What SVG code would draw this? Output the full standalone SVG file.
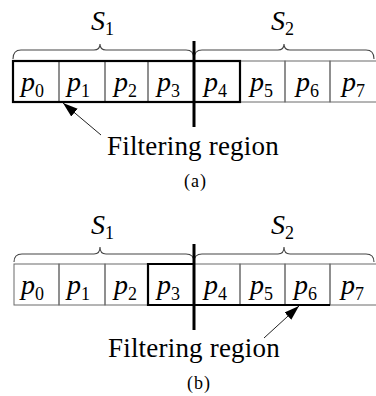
<svg xmlns="http://www.w3.org/2000/svg" width="376" height="396" viewBox="0 0 376 396">
<style>
.thin{stroke:#6a6a6a;stroke-width:1;fill:none}
.bold{stroke:#000;stroke-width:2.2;fill:none}
.axis{stroke:#000;stroke-width:3}
.brace{stroke:#444;stroke-width:1.1;fill:none}
.var{font-family:'Liberation Serif','Times New Roman','DejaVu Serif',serif;font-style:italic;font-size:28px;fill:#000}
.sub{font-style:normal;font-size:18px}
.lbl{font-family:'Liberation Serif','Times New Roman','DejaVu Serif',serif;font-size:27px;letter-spacing:0.2px;fill:#000}
.cap{font-family:'Liberation Serif','Times New Roman','DejaVu Serif',serif;font-size:18px;letter-spacing:1px;fill:#000}
.arrow{stroke:#222;stroke-width:1;fill:none}
</style>
<defs>
<marker id="ah" markerUnits="userSpaceOnUse" markerWidth="16" markerHeight="12" refX="15" refY="5" orient="auto">
<path d="M0,0 L15,5 L0,10 Z" fill="#000"/>
</marker>
</defs>
<rect width="376" height="396" fill="#fff"/>

<!-- Panel (a) -->
<g id="a-S1">
<path class="brace" d="M13,59 Q13,50 21,50 L94,50 Q100,50 100,44 Q100,50 106,50 L186,50 Q194,50 194,59"/>
<text class="var" x="91" y="30">S<tspan class="sub" font-size="17" dy="5">1</tspan></text>
</g>
<g id="a-S2">
<path class="brace" d="M194,59 Q194,50 202,50 L278,50 Q284,50 284,44 Q284,50 290,50 L366,50 Q374,50 374,59"/>
<text class="var" x="271" y="30">S<tspan class="sub" font-size="17" dy="5">2</tspan></text>
</g>
<g id="a-p0"><rect class="thin" x="13" y="61" width="46" height="41"/><text class="var" x="21" y="91">p<tspan class="sub" dy="6">0</tspan></text></g>
<g id="a-p1"><rect class="thin" x="59" y="61" width="46" height="41"/><text class="var" x="67" y="91">p<tspan class="sub" dy="6">1</tspan></text></g>
<g id="a-p2"><rect class="thin" x="105" y="61" width="43" height="41"/><text class="var" x="114" y="91">p<tspan class="sub" dy="6">2</tspan></text></g>
<g id="a-p3"><rect class="thin" x="148" y="61" width="46" height="41"/><text class="var" x="157" y="91">p<tspan class="sub" dy="6">3</tspan></text></g>
<g id="a-p4"><rect class="thin" x="194" y="61" width="46" height="41"/><text class="var" x="204" y="91">p<tspan class="sub" dy="6">4</tspan></text></g>
<g id="a-p5"><rect class="thin" x="240" y="61" width="45" height="41"/><text class="var" x="250" y="91">p<tspan class="sub" dy="6">5</tspan></text></g>
<g id="a-p6"><rect class="thin" x="285" y="61" width="45" height="41"/><text class="var" x="296" y="91">p<tspan class="sub" dy="6">6</tspan></text></g>
<g id="a-p7"><rect class="thin" x="330" y="61" width="50" height="41"/><text class="var" x="342" y="91">p<tspan class="sub" dy="6">7</tspan></text></g>
<g id="a-region"><rect class="bold" x="13" y="61" width="227" height="41"/></g>
<g id="a-split"><line class="axis" x1="194" y1="41" x2="194" y2="127"/></g>
<g id="a-label"><text class="lbl" x="107" y="155">Filtering region</text></g>
<g id="a-caption"><text class="cap" x="184" y="187">(a)</text></g>

<!-- Panel (b) -->
<g id="b-S1">
<path class="brace" d="M14,262 Q14,254 22,254 L94,254 Q100,254 100,247 Q100,254 106,254 L186,254 Q194,254 194,262"/>
<text class="var" x="91" y="234">S<tspan class="sub" font-size="17" dy="5">1</tspan></text>
</g>
<g id="b-S2">
<path class="brace" d="M194,262 Q194,254 202,254 L278,254 Q284,254 284,247 Q284,254 290,254 L366,254 Q374,254 374,262"/>
<text class="var" x="271" y="234">S<tspan class="sub" font-size="17" dy="5">2</tspan></text>
</g>
<g id="b-p0"><rect class="thin" x="14" y="264" width="45" height="41"/><text class="var" x="21" y="294">p<tspan class="sub" dy="6">0</tspan></text></g>
<g id="b-p1"><rect class="thin" x="59" y="264" width="46" height="41"/><text class="var" x="67" y="294">p<tspan class="sub" dy="6">1</tspan></text></g>
<g id="b-p2"><rect class="thin" x="105" y="264" width="43" height="41"/><text class="var" x="114" y="294">p<tspan class="sub" dy="6">2</tspan></text></g>
<g id="b-p3"><rect class="thin" x="148" y="264" width="46" height="41"/><text class="var" x="157" y="294">p<tspan class="sub" dy="6">3</tspan></text></g>
<g id="b-p4"><rect class="thin" x="194" y="264" width="46" height="41"/><text class="var" x="204" y="294">p<tspan class="sub" dy="6">4</tspan></text></g>
<g id="b-p5"><rect class="thin" x="240" y="264" width="45" height="41"/><text class="var" x="250" y="294">p<tspan class="sub" dy="6">5</tspan></text></g>
<g id="b-p6"><rect class="thin" x="285" y="264" width="45" height="41"/><text class="var" x="294" y="294">p<tspan class="sub" dy="6">6</tspan></text></g>
<g id="b-p7"><rect class="thin" x="330" y="264" width="50" height="41"/><text class="var" x="341" y="294">p<tspan class="sub" dy="6">7</tspan></text></g>
<g id="b-region"><path class="bold" d="M194,264 H148 V305 H330"/></g>
<g id="b-split"><line class="axis" x1="194" y1="244" x2="194" y2="330"/></g>
<g id="b-label"><text class="lbl" x="108" y="357">Filtering region</text></g>
<g id="b-caption"><text class="cap" x="187" y="389">(b)</text></g>

<g id="connectors">
<line class="arrow" x1="101" y1="135" x2="63" y2="103" marker-end="url(#ah)"/>
<line class="arrow" x1="264" y1="338" x2="299" y2="306" marker-end="url(#ah)"/>
</g>
</svg>
